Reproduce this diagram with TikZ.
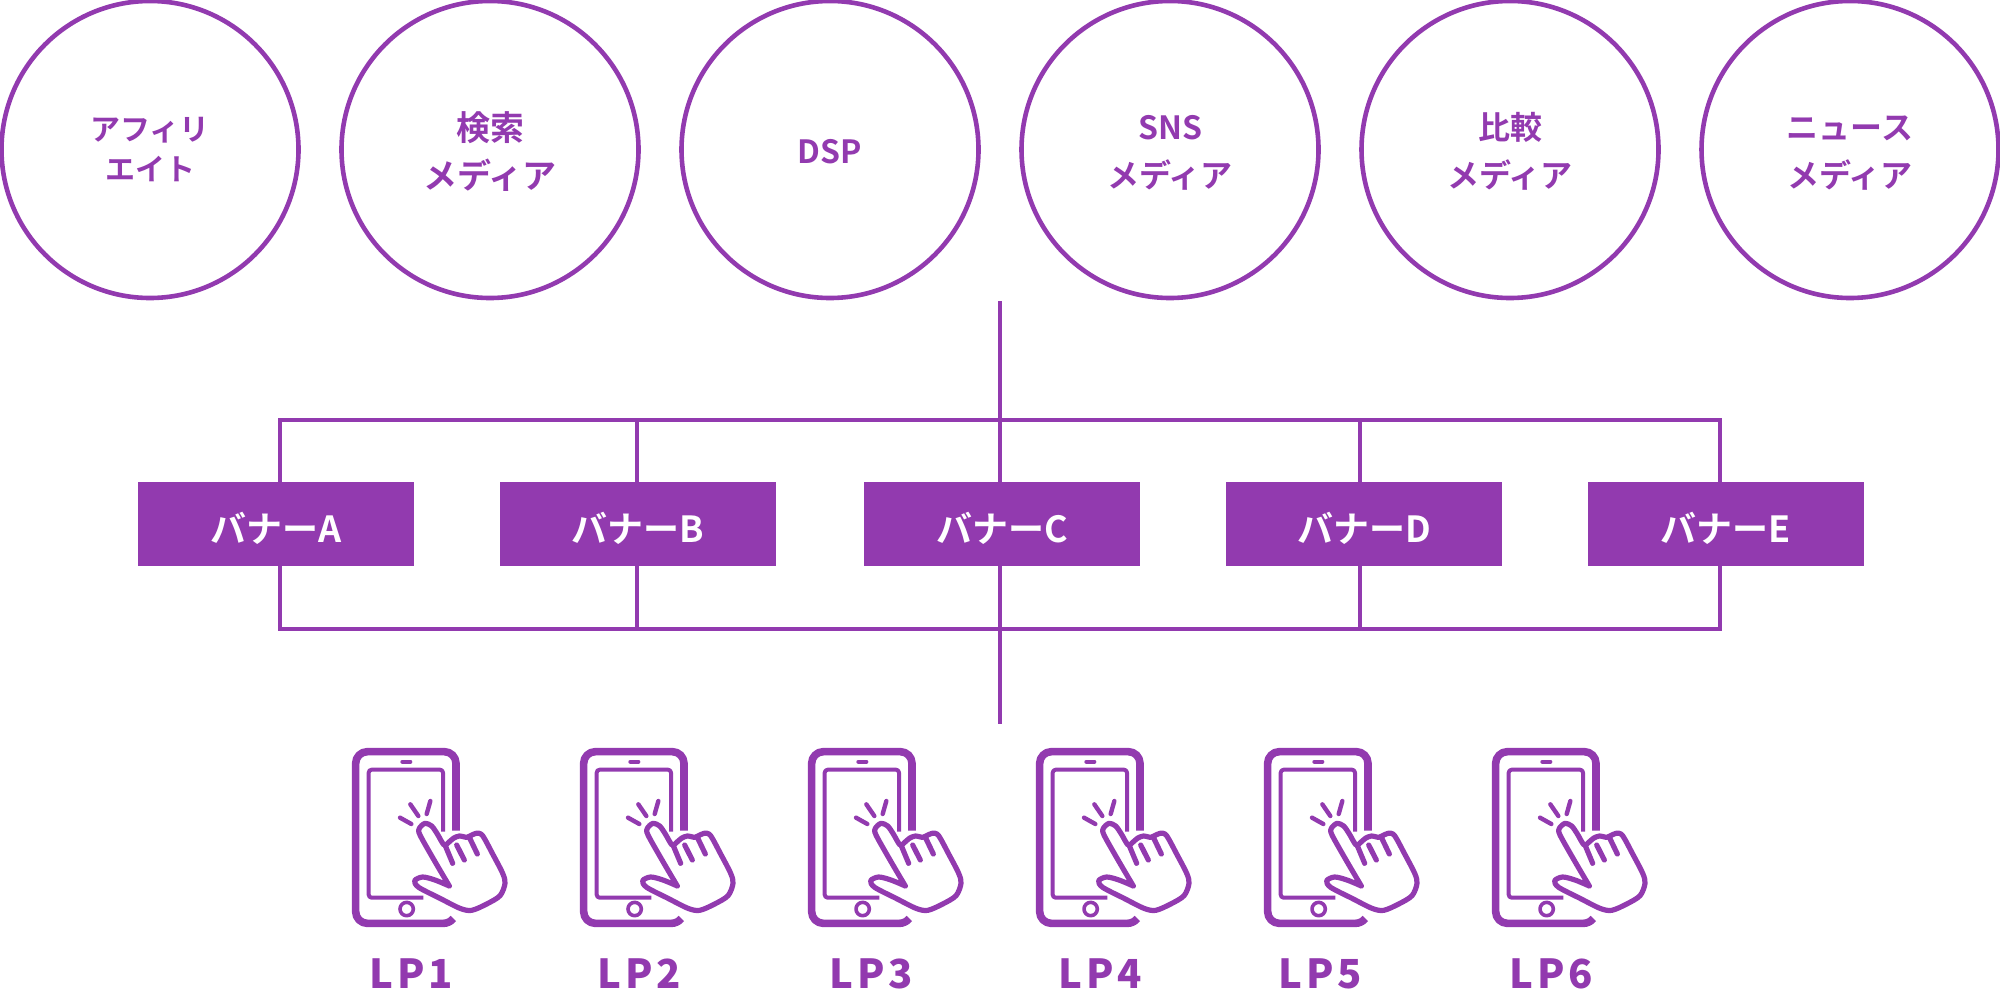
\documentclass[tikz,border=0pt]{standalone}
\usepackage{fontspec}
\setmainfont{Noto Sans CJK JP}[BoldFont={* Bold}]
\newfontfamily\lpfont{Noto Sans CJK JP}[LetterSpace=10]
\definecolor{plum}{RGB}{146,58,175}
\tikzset{%
  media/.style={circle,draw=plum,line width=2.3pt,minimum size=148.5pt,inner sep=0pt,text=plum,text height=38pt,text depth=0pt,font=\bfseries\fontsize{16}{24}\selectfont,align=center},
  banner/.style={fill=plum,minimum width=138pt,minimum height=42pt,inner sep=0pt,text=white,text height=18pt,text depth=0pt,font=\bfseries\fontsize{18}{22}\selectfont},
  lp/.style={text=plum,inner sep=0pt,font=\lpfont\bfseries\fontsize{20}{24}\selectfont},
  wire/.style={draw=plum,line width=2.3pt},
  phone/.pic={
    \begin{scope}[x=.16667pt,y=-.16667pt,draw=plum,line cap=round,line join=round]
      \draw[line width=3.8pt,line cap=butt] (408,302) -- (408,100) arc[start angle=0,end angle=-90,radius=35] -- (142,65)
        arc[start angle=-90,end angle=-180,radius=35] -- (107,545) arc[start angle=180,end angle=90,radius=35]
        -- (370,580) arc[start angle=90,end angle=38,radius=38];
      \draw[line width=2pt,line cap=butt,rounded corners=1.5pt] (369,305) -- (369,119) -- (146,119) -- (146,503) -- (310,503);
      \draw[line width=2pt] (247,95) -- (271,95);
      \draw[line width=1.8pt] (260,537) circle[radius=20];
      \draw[line width=2.2pt] (240,263) -- (274,282);
      \draw[line width=2.2pt] (271,223) -- (295,258);
      \draw[line width=2.2pt] (331,213) -- (320,252);
      \draw[line width=2.6pt] plot[smooth,tension=.5] coordinates {(388,468) (345,450) (308,441) (284,452) (296,472) (360,505) (420,535) (455,541) (500,522) (540,497) (555,460) (548,430) (518,372) (487,316) (468,310) (450,318) (440,322) (418,318) (400,325) (385,338) (372,345) (352,312) (335,288) (315,280) (298,295) (300,315) (345,395) (388,468)};
      \draw[line width=2.6pt] (375,345) -- (398,400);
      \draw[line width=2.6pt] (410,345) -- (433,390);
      \draw[line width=2.6pt] (448,322) -- (472,372);
    \end{scope}
  }
}
\begin{document}
\begin{tikzpicture}[x=.5pt,y=-.5pt]
  \useasboundingbox (0,0) rectangle (2000,1000);

  \node[media,text height=31.5pt,font=\bfseries\fontsize{15}{21}\selectfont] (affiliate) at (150,149.5) {アフィリ\\[-1pt]エイト};
  \node[media,text height=38.7pt,font=\bfseries\fontsize{17}{25}\selectfont] (search) at (490,149.5) {検索\\[-1pt]メディア};
  \node[media,text height=14pt] (dsp) at (830,149.5) {DSP};
  \node[media] (sns) at (1170,149.5) {SNS\\メディア};
  \node[media] (compare) at (1510,149.5) {比較\\メディア};
  \node[media] (news) at (1850,149.5) {ニュース\\メディア};

  \coordinate (stemtop) at (1000,301);
  \coordinate (stembottom) at (1000,724);
  \coordinate (topa) at (280,420);
  \coordinate (topb) at (637,420);
  \coordinate (topc) at (1000,420);
  \coordinate (topd) at (1360,420);
  \coordinate (tope) at (1720,420);
  \coordinate (bota) at (280,629);
  \coordinate (botb) at (637,629);
  \coordinate (botc) at (1000,629);
  \coordinate (botd) at (1360,629);
  \coordinate (bote) at (1720,629);

  \draw[wire] (stemtop) -- (topc);
  \draw[wire] (topc) -- (botc);
  \draw[wire] (botc) -- (stembottom);
  \draw[wire] (topa) -- (tope);
  \draw[wire] (bota) -- (bote);
  \draw[wire,line cap=rect] (topa) -- (bota);
  \draw[wire,line cap=rect] (topb) -- (botb);
  \draw[wire,line cap=rect] (topd) -- (botd);
  \draw[wire,line cap=rect] (tope) -- (bote);

  \node[banner] (bannera) at (276,524) {バナーA};
  \node[banner] (bannerb) at (638,524) {バナーB};
  \node[banner] (bannerc) at (1002,524) {バナーC};
  \node[banner] (bannerd) at (1364,524) {バナーD};
  \node[banner] (bannere) at (1726,524) {バナーE};

  \pic at (320,730) {phone};
  \pic at (548,730) {phone};
  \pic at (776,730) {phone};
  \pic at (1004,730) {phone};
  \pic at (1232,730) {phone};
  \pic at (1460,730) {phone};

  \node[lp] (lpa) at (411,974) {LP1};
  \node[lp] (lpb) at (639,974) {LP2};
  \node[lp] (lpc) at (871,974) {LP3};
  \node[lp] (lpd) at (1100,974) {LP4};
  \node[lp] (lpe) at (1320,974) {LP5};
  \node[lp] (lpf) at (1551,974) {LP6};
\end{tikzpicture}
\end{document}
